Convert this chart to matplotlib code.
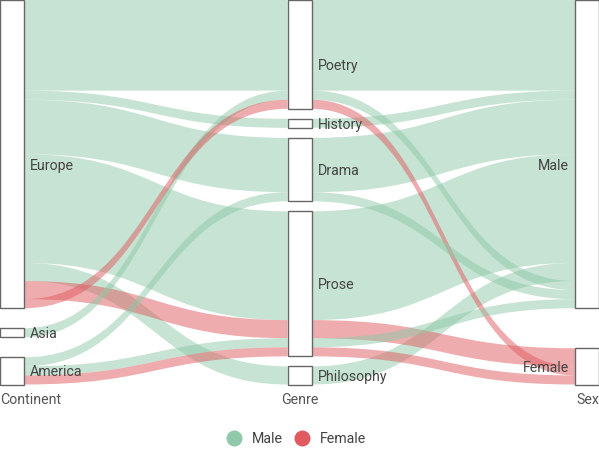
import matplotlib
matplotlib.use('Agg')
import matplotlib.pyplot as plt
from matplotlib.path import Path
from matplotlib.patches import PathPatch, Rectangle
from matplotlib.lines import Line2D

plt.rcParams['font.family'] = ['Roboto', 'DejaVu Sans']

# dimensions and their categories (top to bottom)
dimensions = ['Continent', 'Genre', 'Sex']
continents = ['Europe', 'Asia', 'America']
genres = ['Poetry', 'History', 'Drama', 'Prose', 'Philosophy']
sexes = ['Male', 'Female']

# one row per (continent, genre, sex) combination, in stacking order
row_continent = ['Europe', 'Europe', 'Europe', 'Europe', 'Europe', 'Europe',
                 'Asia', 'Europe', 'America', 'America', 'America']
row_genre = ['Poetry', 'History', 'Drama', 'Prose', 'Philosophy', 'Prose',
             'Poetry', 'Poetry', 'Drama', 'Prose', 'Prose']
row_sex = ['Male', 'Male', 'Male', 'Male', 'Male', 'Female',
           'Male', 'Female', 'Male', 'Male', 'Female']
row_count = [10, 1, 6, 12, 2, 2, 1, 1, 1, 1, 1]

sex_colors = {'Male': '#8fc9a9', 'Female': '#e05a5f'}

W, H = 599, 450
top, bottom = 0.0, 384.5
gap_total = 40.0
node_w = 24
col_left = [0, (W - node_w) / 2, W - node_w]
fs = 10.2

fig = plt.figure(figsize=(W / 100, H / 100), dpi=100)
ax = fig.add_axes([0, 0, 1, 1])
ax.set_xlim(0, W)
ax.set_ylim(H, 0)
ax.axis('off')

cats = [continents, genres, sexes]
rows = [row_continent, row_genre, row_sex]
total = sum(row_count)
unit = (bottom - top - gap_total) / total

# node extents
nodes = []
for d, names in enumerate(cats):
    gap = gap_total / (len(names) - 1)
    y = top
    ext = {}
    for name in names:
        size = sum(c for r, c in zip(rows[d], row_count) if r == name) * unit
        ext[name] = (y, y + size)
        y += size + gap
    nodes.append(ext)

# ribbon spans at every node, stacked in row order
spans = []
for d in range(len(dimensions)):
    cursor = {k: v[0] for k, v in nodes[d].items()}
    sp = []
    for r, c in zip(rows[d], row_count):
        y0 = cursor[r]
        cursor[r] = y0 + c * unit
        sp.append((y0, y0 + c * unit))
    spans.append(sp)

for d in range(len(dimensions) - 1):
    x0 = col_left[d] + node_w
    x1 = col_left[d + 1]
    xm = (x0 + x1) / 2
    for i, s in enumerate(row_sex):
        a0, a1 = spans[d][i]
        b0, b1 = spans[d + 1][i]
        verts = [(x0, a0), (xm, a0), (xm, b0), (x1, b0),
                 (x1, b1), (xm, b1), (xm, a1), (x0, a1), (x0, a0)]
        codes = [Path.MOVETO, Path.CURVE4, Path.CURVE4, Path.CURVE4,
                 Path.LINETO, Path.CURVE4, Path.CURVE4, Path.CURVE4, Path.CLOSEPOLY]
        ax.add_patch(PathPatch(Path(verts, codes), facecolor=sex_colors[s],
                               edgecolor='none', alpha=0.5, zorder=1))

# node boxes and labels
for d, ext in enumerate(nodes):
    for name, (y0, y1) in ext.items():
        ax.add_patch(Rectangle((col_left[d], y0), node_w, y1 - y0,
                               facecolor='white', edgecolor='#666666',
                               lw=1, zorder=3))
        ly = (max(y0, 21) + y1) / 2 + 1.5
        if d < len(dimensions) - 1:
            ax.text(col_left[d] + node_w + 6, ly, name, ha='left', va='center',
                    fontsize=fs, color='#444444', zorder=4)
        else:
            ax.text(col_left[d] - 6, ly, name, ha='right', va='center',
                    fontsize=fs, color='#444444', zorder=4)

# dimension titles
ax.text(0, 400, dimensions[0], ha='left', va='center', fontsize=fs, color='#555555')
ax.text(W / 2, 400, dimensions[1], ha='center', va='center', fontsize=fs, color='#555555')
ax.text(W, 400, dimensions[2], ha='right', va='center', fontsize=fs, color='#555555')

handles = [Line2D([], [], marker='o', linestyle='', markersize=11.5,
                  markerfacecolor=sex_colors[s], markeredgecolor='none') for s in sexes]
fig.legend(handles, sexes, loc='center', bbox_to_anchor=(0.495, 1 - 439 / H),
           ncol=2, frameon=False, handlelength=1, handletextpad=0.8,
           columnspacing=0.8, fontsize=fs, labelcolor='#444444')

fig.savefig('out.png', dpi=100)
